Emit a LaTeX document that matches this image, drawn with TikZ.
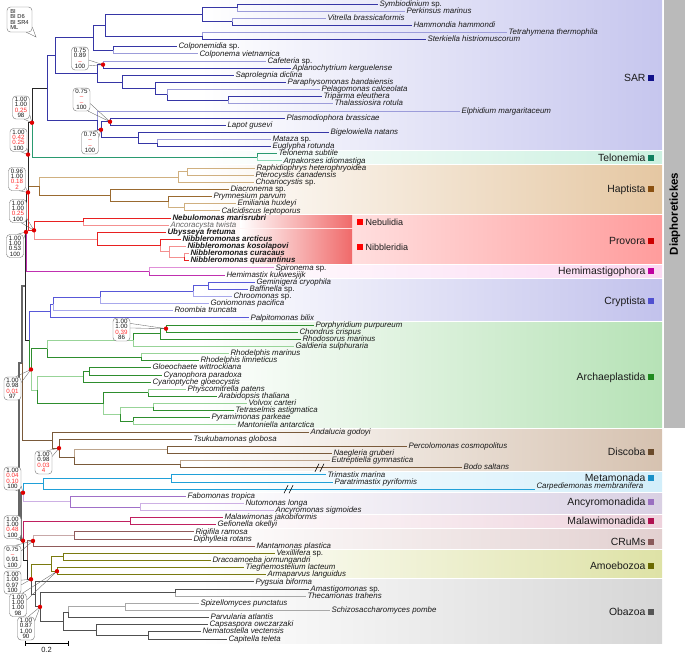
\documentclass[tikz,border=0pt]{standalone}
\usepackage{fontspec}
\setmainfont{Liberation Sans}
\definecolor{txt}{HTML}{1A1A1A}
\definecolor{rd}{HTML}{FF3030}
\definecolor{dotc}{HTML}{E00000}
\definecolor{sarD}{HTML}{3636A6}\definecolor{sarL}{HTML}{9C9CDA}
\definecolor{telD}{HTML}{2A9A70}\definecolor{telL}{HTML}{90D8B8}
\definecolor{hapD}{HTML}{9A6A30}\definecolor{hapL}{HTML}{D0B080}
\definecolor{proD}{HTML}{E82020}\definecolor{proL}{HTML}{F49090}
\definecolor{hemD}{HTML}{C030B0}\definecolor{hemL}{HTML}{E090D8}
\definecolor{cryD}{HTML}{5858D8}\definecolor{cryL}{HTML}{A8A8EC}
\definecolor{arcD}{HTML}{2E8E2E}\definecolor{arcL}{HTML}{98D498}
\definecolor{disD}{HTML}{7A5A3A}\definecolor{disL}{HTML}{BCA48C}
\definecolor{metD}{HTML}{20A0D8}\definecolor{metL}{HTML}{88D0F0}
\definecolor{ancD}{HTML}{A070C8}\definecolor{ancL}{HTML}{CDB0E4}
\definecolor{malD}{HTML}{C02060}\definecolor{malL}{HTML}{E890B0}
\definecolor{cruD}{HTML}{905A5A}\definecolor{cruL}{HTML}{C8A8A8}
\definecolor{amoD}{HTML}{7A7A10}\definecolor{amoL}{HTML}{C4C470}
\definecolor{obaD}{HTML}{505050}\definecolor{obaL}{HTML}{A8A8A8}
\definecolor{sarB}{HTML}{C6C6EE}\definecolor{sarT}{HTML}{F4F4FC}
\definecolor{telB}{HTML}{CBF0E0}\definecolor{telT}{HTML}{E6F9F1}
\definecolor{hapB}{HTML}{E5C7A2}\definecolor{hapT}{HTML}{F8F0E6}
\definecolor{proB}{HTML}{FF9C9C}\definecolor{proT}{HTML}{FFE4E4}
\definecolor{hemB}{HTML}{FBD8F2}\definecolor{hemT}{HTML}{FDECF8}
\definecolor{cryB}{HTML}{C2C2EC}\definecolor{cryT}{HTML}{F2F2FB}
\definecolor{arcB}{HTML}{B6E2B6}\definecolor{arcT}{HTML}{EEF8EE}
\definecolor{disB}{HTML}{D6C2B0}\definecolor{disT}{HTML}{F4EFEA}
\definecolor{metB}{HTML}{D2EEFA}\definecolor{metT}{HTML}{EAF7FD}
\definecolor{ancB}{HTML}{D9D0E3}\definecolor{ancT}{HTML}{EFEBF3}
\definecolor{malB}{HTML}{EED2DC}\definecolor{malT}{HTML}{F8EAEF}
\definecolor{cruB}{HTML}{E2D0D0}\definecolor{cruT}{HTML}{F2EAEA}
\definecolor{amoB}{HTML}{DEE2A6}\definecolor{amoT}{HTML}{F4F6E0}
\definecolor{obaB}{HTML}{D6D6D6}\definecolor{obaT}{HTML}{F4F4F4}
\definecolor{sarS}{HTML}{10108A}\definecolor{telS}{HTML}{108060}
\definecolor{hapS}{HTML}{8A5010}\definecolor{proS}{HTML}{CC0000}
\definecolor{hemS}{HTML}{C000A0}\definecolor{cryS}{HTML}{5050D0}
\definecolor{arcS}{HTML}{208A20}\definecolor{disS}{HTML}{6A4A2A}
\definecolor{metS}{HTML}{1890C8}\definecolor{ancS}{HTML}{9A70C0}
\definecolor{malS}{HTML}{B01050}\definecolor{cruS}{HTML}{8A5A5A}
\definecolor{amoS}{HTML}{6A6A00}\definecolor{obaS}{HTML}{555555}
\definecolor{subR}{HTML}{F06A6A}
\newcommand\brn[3]{\draw[#1] (#2) |- (#3);}
\newcommand\leafx[3]{\coordinate (t#1) at (#2,{Y(#1)}); \node[leaf] (L#1) at (t#1) {#3};}
\newcommand\cladelab[4]{\node[clab] (#4) at (646,#1) {#2}; \fill[#3] (648,#1-3) rectangle (654,#1+3);}
\newcommand\cbox[6]{\shade[left color=white, middle color=#5, right color=#4] (200,#1) rectangle (662,#2);}
\tikzset{
 leaf/.style={anchor=west, inner xsep=1pt, inner ysep=0pt, text height=5.4pt, text depth=1.2pt, font=\fontsize{7.9}{8}\selectfont, text=txt},
 clab/.style={anchor=east, inner sep=0pt, text height=7pt, text depth=0pt, font=\fontsize{10.4}{11}\selectfont, text=txt},
 bub/.style={draw=black!55, line width=0.4pt, rounded corners=3.5pt, fill=white, inner sep=0.6pt, align=center, font=\fontsize{6.2}{5.4}\selectfont, minimum width=17pt, minimum height=23pt, text=txt},
 tl/.style={draw=black!60, line width=0.35pt},
 dt/.style={fill=dotc},
 bb/.style={draw=black!85, line width=1pt},
 bbg/.style={draw=black!60, line width=1.5pt},
 every path/.append style={line width=1pt},
}
\begin{document}
\begin{tikzpicture}[x=1pt,y=-1pt, declare function={Y(\i)=7.135*\i-3.135;}]
\useasboundingbox (0,0) rectangle (685,653);
% background boxes
\cbox{0}{{Y(21.5)-1}}{}{sarB}{sarT}{}
\cbox{{Y(21.5)+1}}{{Y(23.5)-1}}{}{telB}{telT}{}
\cbox{{Y(23.5)+1}}{{Y(30.5)-1}}{}{hapB}{hapT}{}
\cbox{{Y(30.5)+1}}{{Y(37.5)-1}}{}{proB}{proT}{}
\cbox{{Y(37.5)+1}}{{Y(39.5)-1}}{}{hemB}{hemT}{}
\cbox{{Y(39.5)+1}}{{Y(45.5)-1}}{}{cryB}{cryT}{}
\cbox{{Y(45.5)+1}}{{Y(60.5)-1}}{}{arcB}{arcT}{}
\cbox{{Y(60.5)+1}}{{Y(66.5)-1}}{}{disB}{disT}{}
\cbox{{Y(66.5)+1}}{{Y(69.5)-1}}{}{metB}{metT}{}
\cbox{{Y(69.5)+1}}{{Y(72.5)-1}}{}{ancB}{ancT}{}
\cbox{{Y(72.5)+1}}{{Y(74.5)-1}}{}{malB}{malT}{}
\cbox{{Y(74.5)+1}}{{Y(77.5)-1}}{}{cruB}{cruT}{}
\cbox{{Y(77.5)+1}}{{Y(81.5)-1}}{}{amoB}{amoT}{}
\cbox{{Y(81.5)+1}}{{Y(90.5)+0.5}}{}{obaB}{obaT}{}
\shade[left color=white, right color=subR] (240,{Y(30.5)+1}) rectangle (352,{Y(32.5)-1});
\shade[left color=white, right color=subR] (240,{Y(32.5)+1}) rectangle (352,{Y(37.5)-1});
\fill[black!27] (664,0) rectangle (685,428);
\node[rotate=90, font=\fontsize{11.5}{12}\selectfont\bfseries, text=black] (diaph) at (675,214) {Diaphoretickes};
% leaves
\leafx{1}{378}{\textit{Symbiodinium} sp.}
\leafx{2}{405}{\textit{Perkinsus marinus}}
\leafx{3}{326}{\textit{Vitrella brassicaformis}}
\leafx{4}{412}{\textit{Hammondia hammondi}}
\leafx{5}{507}{\textit{Tetrahymena thermophila}}
\leafx{6}{426}{\textit{Sterkiella histriomuscorum}}
\leafx{7}{177}{\textit{Colponemidia} sp.}
\leafx{8}{198}{\textit{Colponema vietnamica}}
\leafx{9}{266}{\textit{Cafeteria} sp.}
\leafx{10}{291}{\textit{Aplanochytrium kerguelense}}
\leafx{11}{234}{\textit{Saprolegnia diclina}}
\leafx{12}{286}{\textit{Paraphysomonas bandaiensis}}
\leafx{13}{320}{\textit{Pelagomonas calceolata}}
\leafx{14}{322}{\textit{Triparma eleuthera}}
\leafx{15}{333}{\textit{Thalassiosira rotula}}
\leafx{16}{460}{\textit{Elphidium margaritaceum}}
\leafx{17}{285}{\textit{Plasmodiophora brassicae}}
\leafx{18}{226}{\textit{Lapot gusevi}}
\leafx{19}{329}{\textit{Bigelowiella natans}}
\leafx{20}{271}{\textit{Mataza} sp.}
\leafx{21}{271}{\textit{Euglypha rotunda}}
\leafx{22}{277}{\textit{Telonema subtile}}
\leafx{23}{282}{\textit{Arpakorses idiomastiga}}
\leafx{24}{255}{\textit{Raphidiophrys heterophryoidea}}
\leafx{25}{254}{\textit{Pterocystis canadensis}}
\leafx{26}{254}{\textit{Choanocystis} sp.}
\leafx{27}{229}{\textit{Diacronema} sp.}
\leafx{28}{212}{\textit{Prymnesium parvum}}
\leafx{29}{236}{\textit{Emiliania huxleyi}}
\leafx{30}{220}{\textit{Calcidiscus leptoporus}}
\leafx{31}{171}{\textbf{\textit{Nebulomonas marisrubri}}}
\leafx{32}{169}{\textcolor{black!60}{\textit{Ancoracysta twista}}}
\leafx{33}{166}{\textbf{\textit{Ubysseya fretuma}}}
\leafx{34}{181}{\textbf{\textit{Nibbleromonas arcticus}}}
\leafx{35}{186}{\textbf{\textit{Nibbleromonas kosolapovi}}}
\leafx{36}{189}{\textbf{\textit{Nibbleromonas curacaus}}}
\leafx{37}{189}{\textbf{\textit{Nibbleromonas quarantinus}}}
\leafx{38}{274}{\textit{Spironema} sp.}
\leafx{39}{225}{\textit{Hemimastix kukwesjijk}}
\leafx{40}{255}{\textit{Geminigera cryophila}}
\leafx{41}{248}{\textit{Baffinella} sp.}
\leafx{42}{232}{\textit{Chroomonas} sp.}
\leafx{43}{209}{\textit{Goniomonas pacifica}}
\leafx{44}{173}{\textit{Roombia truncata}}
\leafx{45}{249}{\textit{Palpitomonas bilix}}
\leafx{46}{314}{\textit{Porphyridium purpureum}}
\leafx{47}{298}{\textit{Chondrus crispus}}
\leafx{48}{301}{\textit{Rhodosorus marinus}}
\leafx{49}{294}{\textit{Galdieria sulphuraria}}
\leafx{50}{229}{\textit{Rhodelphis marinus}}
\leafx{51}{199}{\textit{Rhodelphis limneticus}}
\leafx{52}{151}{\textit{Gloeochaete wittrockiana}}
\leafx{53}{162}{\textit{Cyanophora paradoxa}}
\leafx{54}{151}{\textit{Cyanoptyche gloeocystis}}
\leafx{55}{186}{\textit{Physcomitrella patens}}
\leafx{56}{217}{\textit{Arabidopsis thaliana}}
\leafx{57}{247}{\textit{Volvox carteri}}
\leafx{58}{234}{\textit{Tetraselmis astigmatica}}
\leafx{59}{210}{\textit{Pyramimonas parkeae}}
\leafx{60}{236}{\textit{Mantoniella antarctica}}
\leafx{61}{309}{\textit{Andalucia godoyi}}
\leafx{62}{192}{\textit{Tsukubamonas globosa}}
\leafx{63}{407}{\textit{Percolomonas cosmopolitus}}
\leafx{64}{332}{\textit{Naegleria gruberi}}
\leafx{65}{330}{\textit{Eutreptiella gymnastica}}
\leafx{66}{462}{\textit{Bodo saltans}}
\leafx{67}{326}{\textit{Trimastix marina}}
\leafx{68}{333}{\textit{Paratrimastix pyriformis}}
\coordinate (t69) at (535,{Y(69)});
\node[leaf] (L69) at ([yshift=2.5pt]t69) {\textit{Carpediemonas membranifera}};
\leafx{70}{186}{\textit{Fabomonas tropica}}
\leafx{71}{244}{\textit{Nutomonas longa}}
\leafx{72}{274}{\textit{Ancyromonas sigmoides}}
\leafx{73}{223}{\textit{Malawimonas jakobiformis}}
\leafx{74}{216}{\textit{Gefionella okellyi}}
\leafx{75}{194}{\textit{Rigifila ramosa}}
\leafx{76}{192}{\textit{Diphylleia rotans}}
\leafx{77}{255}{\textit{Mantamonas plastica}}
\leafx{78}{275}{\textit{Vexillifera} sp.}
\leafx{79}{211}{\textit{Dracoamoeba jormungandri}}
\leafx{80}{244}{\textit{Tieghemostelium lacteum}}
\leafx{81}{266}{\textit{Armaparvus languidus}}
\leafx{82}{254}{\textit{Pygsuia biforma}}
\leafx{83}{309}{\textit{Amastigomonas} sp.}
\leafx{84}{306}{\textit{Thecamonas trahens}}
\leafx{85}{199}{\textit{Spizellomyces punctatus}}
\leafx{86}{330}{\textit{Schizosaccharomyces pombe}}
\leafx{87}{209}{\textit{Parvularia atlantis}}
\leafx{88}{208}{\textit{Capsaspora owczarzaki}}
\leafx{89}{201}{\textit{Nematostella vectensis}}
\leafx{90}{227}{\textit{Capitella teleta}}
% internal nodes
\coordinate (a1) at (237,{Y(1.5)}); \coordinate (a2) at (232,{Y(3.5)});
\coordinate (a3) at (202,{Y(2.5)}); \coordinate (a4) at (202,{Y(5.5)});
\coordinate (a5) at (105,{Y(4)}); \coordinate (a6) at (113,{Y(7.5)});
\coordinate (a7) at (93,{Y(5.75)}); \coordinate (b1) at (103,{Y(9.5)});
\coordinate (b2) at (228,{Y(14.5)}); \coordinate (b3) at (167,{Y(13.75)});
\coordinate (b4) at (155,{Y(12.875)}); \coordinate (b5) at (122,{Y(11.9375)});
\coordinate (b6) at (97,{Y(10.71875)}); \coordinate (a8) at (55,{Y(8.234)});
\coordinate (c1) at (110,{Y(17.5)}); \coordinate (c2) at (157,{Y(20.5)});
\coordinate (c3) at (138,{Y(19.75)}); \coordinate (c4) at (101,{Y(18.625)});
\coordinate (c5) at (97,{Y(17.3125)}); \coordinate (sar) at (47,{Y(12.773)});
\coordinate (tel) at (257,{Y(22.5)}); \coordinate (tsar) at (32,{Y(17.637)});
\coordinate (h1) at (187,{Y(24.5)}); \coordinate (h2) at (178,{Y(25.25)});
\coordinate (h3) at (184,{Y(29.5)}); \coordinate (h4) at (168,{Y(28.75)});
\coordinate (h5) at (110,{Y(27.875)}); \coordinate (h6) at (39,{Y(26.5625)});
\coordinate (n5) at (28,{Y(22.1)});
\coordinate (p1) at (83,{Y(31.5)}); \coordinate (p2) at (184,{Y(36.5)});
\coordinate (p3) at (169,{Y(35.75)}); \coordinate (p4) at (160,{Y(34.875)});
\coordinate (p5) at (97,{Y(33.9375)}); \coordinate (p6) at (34,{Y(32.71875)});
\coordinate (n6) at (28,{Y(27.409)}); \coordinate (hm) at (149,{Y(38.5)});
\coordinate (n8) at (26,{Y(32.955)});
\coordinate (k1) at (208,{Y(40.5)}); \coordinate (k2) at (193,{Y(41.25)});
\coordinate (k3) at (100,{Y(42.125)}); \coordinate (k4) at (53,{Y(43.0625)});
\coordinate (k5) at (50,{Y(44.03)});
\coordinate (r1) at (166,{Y(46.5)}); \coordinate (r2) at (160,{Y(47.25)});
\coordinate (r3) at (133,{Y(48.125)}); \coordinate (rd) at (141,{Y(50.5)});
\coordinate (r4) at (47,{Y(49.3125)}); \coordinate (g1) at (89,{Y(52.5)});
\coordinate (g2) at (83,{Y(53.25)}); \coordinate (v1) at (148,{Y(55.5)});
\coordinate (v2) at (153,{Y(57.5)}); \coordinate (v3) at (133,{Y(59.5)});
\coordinate (v4) at (120,{Y(58.5)}); \coordinate (v5) at (103,{Y(57)});
\coordinate (gv) at (37,{Y(55.125)}); \coordinate (arch) at (31,{Y(52.22)});
\coordinate (ca) at (29,{Y(48.12)}); \coordinate (dia) at (25,{Y(40.54)});
\coordinate (d1) at (167,{Y(63.5)}); \coordinate (d2) at (180,{Y(65.5)});
\coordinate (d3) at (74,{Y(64.5)}); \coordinate (d4) at (59,{Y(63.25)});
\coordinate (d5) at (52,{Y(62.125)}); \coordinate (dd) at (22,{Y(51.33)});
\coordinate (m1) at (171,{Y(67.5)}); \coordinate (m2) at (43,{Y(68.25)});
\coordinate (an1) at (140,{Y(71.5)}); \coordinate (an2) at (70,{Y(70.75)});
\coordinate (ma) at (23,{Y(69.5)}); \coordinate (ml) at (130,{Y(73.5)});
\coordinate (cu1) at (74,{Y(75.5)}); \coordinate (cu2) at (33,{Y(76.25)});
\coordinate (am1) at (63,{Y(78.5)}); \coordinate (am2) at (57,{Y(80.5)});
\coordinate (am3) at (51,{Y(79.5)});
\coordinate (ap) at (175,{Y(83.5)}); \coordinate (fu) at (125,{Y(85.5)});
\coordinate (hy) at (68,{Y(86.25)}); \coordinate (nc) at (148,{Y(89.5)});
\coordinate (hz) at (96,{Y(88.75)}); \coordinate (op) at (63,{Y(87.5)});
\coordinate (ao) at (40,{Y(85.5)}); \coordinate (ob) at (35,{Y(83.75)});
\coordinate (amo) at (31,{Y(81.625)}); \coordinate (pod) at (27,{Y(78.94)});
\coordinate (mp) at (23,{Y(76.22)}); \coordinate (mm) at (21,{Y(72.86)});
\coordinate (root) at (19,{Y(62.1)});
% SAR branches
\brn{sarD}{a1}{t1}\brn{sarL}{a1}{t2}\brn{sarL}{a2}{t3}\brn{sarD}{a2}{t4}
\brn{sarD}{a3}{a1}\brn{sarD}{a3}{a2}\brn{sarL}{a4}{t5}\brn{sarD}{a4}{t6}
\brn{sarD}{a5}{a3}\brn{sarD}{a5}{a4}\brn{sarD}{a6}{t7}\brn{sarL}{a6}{t8}
\brn{sarD}{a7}{a5}\brn{sarD}{a7}{a6}\brn{sarL}{b1}{t9}\brn{sarD}{b1}{t10}
\brn{sarD}{b2}{t14}\brn{sarL}{b2}{t15}\brn{sarL}{b3}{t13}\brn{sarD}{b3}{b2}
\brn{sarD}{b4}{t12}\brn{sarD}{b4}{b3}\brn{sarD}{b5}{t11}\brn{sarD}{b5}{b4}
\brn{sarD}{b6}{b1}\brn{sarD}{b6}{b5}\brn{sarD}{a8}{a7}\brn{sarD}{a8}{b6}
\brn{sarD}{c1}{t17}\brn{sarD}{c1}{t18}\brn{sarL}{c2}{t20}\brn{sarD}{c2}{t21}
\brn{sarD}{c3}{t19}\brn{sarD}{c3}{c2}\brn{sarD}{c4}{c1}\brn{sarD}{c4}{c3}
\brn{sarL}{c5}{t16}\brn{sarD}{c5}{c4}\brn{sarD}{sar}{a8}\brn{sarD}{sar}{c5}
\brn{telD}{tel}{t22}\brn{telL}{tel}{t23}
\brn{bb}{tsar}{sar}\brn{telD}{tsar}{tel}
% Haptista
\brn{hapL}{h1}{t24}\brn{hapL}{h1}{t25}\brn{hapL}{h2}{h1}\brn{hapL}{h2}{t26}
\brn{hapL}{h3}{t29}\brn{hapL}{h3}{t30}\brn{hapD}{h4}{t28}\brn{hapL}{h4}{h3}
\brn{hapD}{h5}{t27}\brn{hapD}{h5}{h4}\brn{hapL}{h6}{h2}\brn{hapD}{h6}{h5}
\brn{bb}{n5}{tsar}\brn{hapD}{n5}{h6}
% Provora
\brn{proD}{p1}{t31}\brn{proL}{p1}{t32}\brn{proL}{p2}{t36}\brn{proD}{p2}{t37}
\brn{proL}{p3}{t35}\brn{proL}{p3}{p2}\brn{proD}{p4}{t34}\brn{proL}{p4}{p3}
\brn{proD}{p5}{t33}\brn{proD}{p5}{p4}\brn{proD}{p6}{p1}\brn{proL}{p6}{p5}
\brn{bb}{n6}{n5}\brn{proD}{n6}{p6}
\brn{hemL}{hm}{t38}\brn{hemD}{hm}{t39}
\brn{bb}{n8}{n6}\brn{hemD}{n8}{hm}
% Cryptista
\brn{cryD}{k1}{t40}\brn{cryD}{k1}{t41}\brn{cryD}{k2}{k1}\brn{cryL}{k2}{t42}
\brn{cryD}{k3}{k2}\brn{cryL}{k3}{t43}\brn{cryD}{k4}{k3}\brn{cryL}{k4}{t44}
\brn{cryD}{k5}{k4}\brn{cryD}{k5}{t45}
% Archaeplastida
\brn{arcD}{r1}{t46}\brn{arcD}{r1}{t47}\brn{arcD}{r2}{r1}\brn{arcD}{r2}{t48}
\brn{arcD}{r3}{r2}\brn{arcL}{r3}{t49}\brn{arcL}{rd}{t50}\brn{arcD}{rd}{t51}
\brn{arcL}{r4}{r3}\brn{arcD}{r4}{rd}
\brn{arcD}{g1}{t52}\brn{arcD}{g1}{t53}\brn{arcD}{g2}{g1}\brn{arcD}{g2}{t54}
\brn{arcL}{v1}{t55}\brn{arcD}{v1}{t56}\brn{arcL}{v2}{t57}\brn{arcD}{v2}{t58}
\brn{arcD}{v3}{t59}\brn{arcL}{v3}{t60}\brn{arcL}{v4}{v2}\brn{arcD}{v4}{v3}
\brn{arcD}{v5}{v1}\brn{arcL}{v5}{v4}
\brn{arcL}{gv}{g2}\brn{arcD}{gv}{v5}
\brn{arcD}{arch}{r4}\brn{arcL}{arch}{gv}
\brn{cryD}{ca}{k5}\brn{arcD}{ca}{arch}
\brn{bb}{dia}{n8}\brn{bb}{dia}{ca}
% Discoba
\brn{disD}{d1}{t63}\brn{disD}{d1}{t64}\brn{disL}{d2}{t65}\brn{disD}{d2}{t66}
\brn{disL}{d3}{d1}\brn{disD}{d3}{d2}\brn{disD}{d4}{t62}\brn{disD}{d4}{d3}
\brn{disD}{d5}{t61}\brn{disD}{d5}{d4}
\brn{bbg}{dd}{dia}\brn{disD}{dd}{d5}
% Metamonada, Ancyromonadida
\brn{metD}{m1}{t67}\brn{metD}{m1}{t68}\brn{metD}{m2}{m1}\brn{metD}{m2}{t69}
\brn{ancL}{an1}{t71}\brn{ancL}{an1}{t72}\brn{ancD}{an2}{t70}\brn{ancD}{an2}{an1}
\brn{metD}{ma}{m2}\brn{ancL}{ma}{an2}
% Malawimonadida, CRuMs, Amoebozoa, Obazoa
\brn{malD}{ml}{t73}\brn{malD}{ml}{t74}
\brn{cruD}{cu1}{t75}\brn{cruD}{cu1}{t76}\brn{cruL}{cu2}{cu1}\brn{cruD}{cu2}{t77}
\brn{amoD}{am1}{t78}\brn{amoD}{am1}{t79}\brn{amoD}{am2}{t80}\brn{amoD}{am2}{t81}
\brn{amoD}{am3}{am1}\brn{amoD}{am3}{am2}
\brn{obaD}{ap}{t83}\brn{obaL}{ap}{t84}\brn{obaL}{fu}{t85}\brn{obaL}{fu}{t86}
\brn{obaL}{hy}{fu}\brn{obaD}{hy}{t87}\brn{obaD}{nc}{t89}\brn{obaD}{nc}{t90}
\brn{obaD}{hz}{t88}\brn{obaD}{hz}{nc}\brn{obaD}{op}{hy}\brn{obaD}{op}{hz}
\brn{obaD}{ao}{ap}\brn{obaD}{ao}{op}\brn{obaD}{ob}{t82}\brn{obaD}{ob}{ao}
\brn{amoD}{amo}{am3}\brn{obaD}{amo}{ob}
\brn{cruD}{pod}{cu2}\brn{bb}{pod}{amo}
\brn{malD}{mp}{ml}\brn{bb}{mp}{pod}
\brn{bbg}{mm}{ma}\brn{bbg}{mm}{mp}
\brn{bbg}{root}{dd}\brn{bbg}{root}{mm}
% breaks
\draw[line width=0.6pt] (315,{Y(66)+4}) -- (319,{Y(66)-4}) (320,{Y(66)+4}) -- (324,{Y(66)-4});
\draw[line width=0.6pt] (284,{Y(69)+4}) -- (288,{Y(69)-4}) (289,{Y(69)+4}) -- (293,{Y(69)-4});
% clade labels
\cladelab{78}{SAR}{sarS}{lSAR}
\cladelab{158}{Telonemia}{telS}{lTel}
\cladelab{189}{Haptista}{hapS}{lHap}
\cladelab{241}{Provora}{proS}{lPro}
\cladelab{271}{Hemimastigophora}{hemS}{lHem}
\cladelab{301}{Cryptista}{cryS}{lCry}
\cladelab{377}{Archaeplastida}{arcS}{lArc}
\cladelab{452}{Discoba}{disS}{lDis}
\cladelab{478}{Metamonada}{metS}{lMet}
\cladelab{502}{Ancyromonadida}{ancS}{lAnc}
\cladelab{521}{Malawimonadida}{malS}{lMal}
\cladelab{542}{CRuMs}{cruS}{lCru}
\cladelab{566}{Amoebozoa}{amoS}{lAmo}
\cladelab{612}{Obazoa}{obaS}{lOba}
\fill[red] (357,219) rectangle (363,225);
\node[anchor=west, inner sep=0pt, font=\fontsize{9}{10}\selectfont, text=txt] (lNeb) at (365,222) {Nebulidia};
\fill[red] (357,244) rectangle (363,250);
\node[anchor=west, inner sep=0pt, font=\fontsize{9}{10}\selectfont, text=txt] (lNib) at (365,247) {Nibbleridia};
% scale bar
\coordinate (sb1) at (25,643); \coordinate (sb2) at (68,643);
\draw[line width=0.6pt] (sb1) -- (sb2) (25,640.5) -- (25,645.5) (68,640.5) -- (68,645.5);
\node[font=\fontsize{7.5}{8}\selectfont, text=txt, inner sep=0pt] (sbl) at (46.5,650) {0.2};
% bubbles
\node[bub, align=left, minimum width=25pt, minimum height=25pt, font=\fontsize{5.8}{5.4}\selectfont] (leg) at (19.5,19.5) {BI\\BI D6\\BI SR4\\ML};
\coordinate (legp) at (36,37);
\draw[tl] (leg.-30) -- (legp) -- (leg.-62);
\node[bub] (B1) at (80,58.5) {0.75\\0.89\\\textcolor{rd}{–}\\100};
\node[bub] (B2) at (81.5,99.5) {0.75\\\textcolor{rd}{–}\\\textcolor{rd}{–}\\100};
\node[bub] (B3) at (90,142.5) {0.75\\\textcolor{rd}{–}\\\textcolor{rd}{–}\\100};
\node[bub] (B4) at (21,107.5) {1.00\\1.00\\\textcolor{rd}{0.25}\\98};
\node[bub] (B5) at (18.5,140) {1.00\\\textcolor{rd}{0.42}\\\textcolor{rd}{0.25}\\100};
\node[bub] (B6) at (17,179) {0.96\\1.00\\\textcolor{rd}{0.18}\\\textcolor{rd}{2}};
\node[bub] (B7) at (18,211) {1.00\\1.00\\\textcolor{rd}{0.25}\\100};
\node[bub] (B8) at (15,246) {1.00\\1.00\\0.53\\100};
\node[bub] (B9) at (121.5,329.5) {1.00\\1.00\\\textcolor{rd}{0.39}\\86};
\node[bub] (B10) at (12.5,388.5) {1.00\\0.98\\\textcolor{rd}{0.01}\\97};
\node[bub] (B11) at (43.5,462.5) {1.00\\0.98\\\textcolor{rd}{0.03}\\\textcolor{rd}{4}};
\node[bub] (B12) at (12.5,478.5) {1.00\\\textcolor{rd}{0.04}\\\textcolor{rd}{0.10}\\100};
\node[bub] (B13) at (12.5,527) {1.00\\1.00\\\textcolor{rd}{0.48}\\100};
\node[bub] (B14) at (12.5,557) {0.75\\\textcolor{rd}{–}\\0.91\\100};
\node[bub] (B15) at (12.5,582.5) {1.00\\1.00\\0.97\\100};
\node[bub] (B16) at (18,605) {1.00\\1.00\\1.00\\98};
\node[bub] (B17) at (26,628.5) {1.00\\0.87\\1.00\\90};
\draw[tl] (B1.-10) -- (b1) -- (B1.-40);
\draw[tl] (B2.-25) -- (c1) -- (B2.-60);
\draw[tl] (B3.30) -- (c4) -- (B3.70);
\draw[tl] (B4.-40) -- (tsar) -- (B4.-75);
\draw[tl] (B5.-45) -- (n5) -- (B5.-80);
\draw[tl] (B6.-45) -- (n6) -- (B6.-80);
\draw[tl] (B7.-40) -- (p6) -- (B7.-75);
\draw[tl] (B8.40) -- (n8) -- (B8.80);
\draw[tl] (B9.35) -- (r1) -- (B9.10);
\draw[tl] (B10.35) -- (arch) -- (B10.75);
\draw[tl] (B11.35) -- (d4) -- (B11.75);
\draw[tl] (B12.-40) -- (ma) -- (B12.-75);
\draw[tl] (B13.-40) -- (mp) -- (B13.-75);
\draw[tl] (B14.35) -- (cu2) -- (B14.75);
\draw[tl] (B15.15) -- (amo) -- (B15.-15);
\draw[tl] (B16.30) -- (am2) -- (B16.70);
\draw[tl] (B17.40) -- (ao) -- (B17.80);
% dots
\foreach \d in {b1,c1,c4,tsar,n5,n6,p6,n8,r1,arch,d4,ma,mp,cu2,amo,am2,ao}
  \fill[dt] (\d) circle (2.2);
\end{tikzpicture}
\end{document}
